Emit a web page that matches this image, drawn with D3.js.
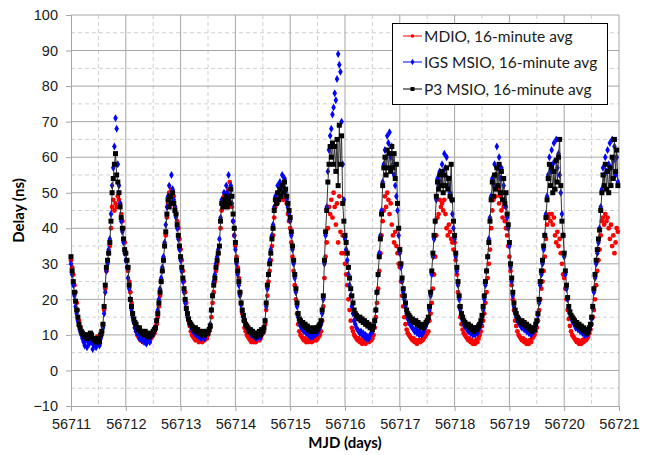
<!DOCTYPE html>
<html lang="en">
<head>
<meta charset="utf-8">
<title>Delay vs MJD</title>
<style>
  body { margin: 0; background: #fff; }
  svg { display: block; font-family: Lato, "Open Sans", sans-serif; }
  .grid-major line { stroke: #a6a6a6; stroke-width: 1; }
  .grid-minor line { stroke: #d0d0d0; stroke-width: 1; stroke-dasharray: 4,3; }
  .axis path, .axis line { stroke: #a6a6a6; }
  .axis text { fill: #1a1a1a; font-size: 14.5px; }
</style>
</head>
<body>
<div id="chart"></div>
<script src="https://cdn.jsdelivr.net/npm/d3@7"></script>
<script>
// 30-minute samples starting at MJD 56711.0, one line per day
var mjdStart = 56711;
var samplesPerDay = 48;

var mdio = [
  31,29,27,24,22,19,17,14,12,11, 10,9.5,9,10,9,8.5,9.5,9,10,8.5, 9,8,9,9.5,8.5,9,10,11,13,17, 23,28,31,33,35,40,46,48,45,47, 46,49,48,47,44,42,40,36,
  33,31,28,25,22,19,16,14,12,11, 10,9.5,9,8.5,9,8,8.5,9,8,8.5, 9,8,9,9.5,10,10.5,11.5,13,15,18, 21,25,28,31,35,38,43,47,50,48, 51,48,49,46,44,42,40,37,
  34,31,28,25,22,19,16,14,12.5,11, 10,9.5,9,8.5,9,8.5,8,9,8.5,8, 9,8.5,9.5,9,10,11,12,15,19,22, 25,28,30,33,35,40,45,47,49,48, 50,48,51,53,49,46,42,38,
  35,32,29,26,22,19,16,14,12,11, 10,9.5,9,8.5,8,8.5,8,9,8,8.5, 9,8.5,9,10,10.5,11,13,17,21,25, 28,31,35,38,43,46,48,47,50,49, 52,50,48,51,49,47,44,42,
  40,36,32,28,24,20,16,13,11,10, 9.5,9,8.5,9,8,8.5,8,9,8.5,8, 9,8.5,9,8.5,9,9.5,10,11,14,18, 26,32,36,40,46,44,48,43,50,46, 41,47,36,49,39,33,38,33,
  30,27,24,20,17,14,12,11,10,9.5, 9,8.5,9,8,8.5,7.5,8,8.5,7.5,8, 8.5,8,9,8.5,9,10,12,15,19,23, 28,33,38,42,45,49,46,50,48,44, 47,41,38,36,39,35,33,30,
  29,25,21,18,15,13,11.5,10.5,10,9.5, 9,8.5,9,8,8.5,7.5,8,8.5,8,8.5, 8.5,9,9.5,10,10.5,11,14,16,19,23, 27,32,38,43,44,48,46,47,45,48, 44,40,38,41,39,37,36,34,
  36,31,27,22,18,15,13,11.5,10.5,10, 9.5,9,8.5,9,8,8.5,7.5,8,7.5,8.5, 8,9,10,11,12.5,14,16,19,22,26, 30,34,40,45,48,52,49,55,51,47, 49,45,43,46,42,40,38,35,
  32,28,24,20,17,14,12.5,11,10,9.5, 9,8.5,9,8,8.5,7.5,8,7.5,8.5,8, 9,9.5,10,11,12,14,17,20,23,25, 28,32,37,41,43,44,42,44,41,43, 38,36,39,35,37,33,30,27,
  26,23,20,17,14.5,12.5,11,10,9.5,9, 8.5,8,8.5,7.5,8,7.5,8.5,8,9,8.5, 9,9.5,10.5,11.5,13,15,17,20,24,28, 31,34,38,42,43,41,44,42,43,40, 37,41,35,38,33,36,40,39
];

var igsMsio = [
  30,27,24,21,18,16,14,12.5,11,10, 9,8,7,8.5,6.5,8,7.5,9,8,6, 7,8,6.5,7.5,8,7,9,10,12,16, 22,28,30,34,37,44,52,57,63,71, 68,58,52,47,42,39,36,33,
  31,29,26,23,20,17,15,13.5,12,11, 10.5,10,9,10,8.5,9.5,8,9,7.5,8.5, 9,8,9.5,10,10.5,11,12,14,17,20, 23,26,29,32,36,41,46,49,52,48, 55,51,48,46,43,40,37,34,
  31,28,25,22,19,17,15,14,13,12.5, 11.5,11,10.5,11,10,10.5,9.5,10,9,9.5, 10,9,10,10.5,11,11.5,13,17,21,25, 27,30,32,34,37,43,48,47,50,49, 52,50,55,49,52,47,42,38,
  34,30,27,24,21,18.5,16.5,15,14,13, 12,11.5,11,10.5,10,11,9.5,10,9,10, 9.5,10.5,9.5,11,10.5,12,14,18,23,27, 31,34,38,41,46,49,48,52,50,53, 51,55,52,54,50,48,46,44,
  42,38,34,30,26,22,18,15,13.5,12.5, 12,11.5,11,11.5,10.5,11,10,10.5,9.5,10, 9.5,10.5,10,11,10.5,11.5,12,13,16,20, 30,38,46,56,62,66,68,72,74,78, 76,82,89,86,84,70,58,48,
  37,34,31,27,24,21,18,16,14,13, 12,11.5,11,10.5,11,10,10.5,9.5,10,9, 9.5,9,10,10.5,11,12,14,17,22,27, 33,38,45,53,58,62,60,66,64,67, 60,63,58,55,52,49,45,38,
  33,29,25,22,20,18,16,14.5,13.5,13, 12.5,12,11.5,11,11.5,10.5,11,10,10.5,10, 10.5,11,12,12.5,13.5,14.5,17,21,27,32, 37,42,48,54,52,56,53,58,56,61, 57,60,54,52,50,48,44,40,
  37,32,28,24,20,17,15,14,13,12.5, 12,11.5,11,11.5,10.5,11,10,10.5,10,11, 10.5,11.5,12,13,14.5,17,20,24,28,32, 37,43,49,54,52,58,55,63,57,60, 54,57,50,52,48,46,43,40,
  35,29,25,21,18,16,15,14,13.5,13, 12.5,12,12.5,11.5,12,11,11.5,10.5,11,10, 10.5,11,11.5,12.5,13.5,15.5,19,24,27,30, 34,38,44,49,55,60,56,62,58,64, 59,65,57,61,55,50,44,38,
  32,27,23,20,17.5,16,15,14,13.5,13, 12,12.5,11.5,12,11,11.5,10.5,11,10,10.5, 10,10.5,11.5,12.5,14.5,17.5,22,26,30,33, 36,40,46,51,57,55,60,56,62,58, 64,57,65,59,63,55,60,53
];

var p3Msio = [
  32,28,25,22,19.5,17,15,13,12,11, 10.5,10,9.5,10,9,10,9.5,10.5,10,9, 8.5,9,8,8.5,9,8,10,11,13,18, 24,29,31,33,36,42,50,54,58,61, 55,53,50,46,43,40,37,34,
  33,31,29,24,20,18,16,14.5,13.5,13, 12,11.5,12,11,10.5,11,10,11,10.5,9.5, 10,9.5,10.5,10,11,11.5,12,14,16,19, 22,25,28,31,35,39,44,48,46,49, 47,50,47,45,44,41,38,35,
  32,29,26,23,20,17.5,16,14.5,13.5,13, 12.5,12,11.5,12,11,11.5,10.5,11,10.5,10, 11,10,10.5,11,10.5,11.5,12.5,17,21,24, 26,29,31,33,35,42,47,46,48,47, 49,46,48,47,51,49,44,40,
  36,31,28,25,22,19,17,15.5,14,13, 12.5,12,11,11.5,10.5,11,10,10.5,9.5,10.5, 10,11,10,11.5,11,12,14,19,24,27, 30,33,37,40,45,48,47,50,48,51, 49,52,50,53,51,49,47,45,
  43,39,35,31,27,23,19,16,14.5,14, 13,13.5,12.5,13,12,12.5,11.5,12,11,11.5, 11,12,11,12,11.5,12.5,13,14,17,21, 31,39,45,53,58,63,60,64,58,63, 56,65,52,69,58,66,47,42,
  38,36,33,29,26,23,21,19,17,16, 15.5,15,14.5,15,14,14.5,13.5,14,13,13.5, 12.5,13,12,12.5,11.5,12.5,14,17,22,27, 32,37,44,52,57,60,55,62,57,61, 56,63,57,61,54,58,47,40,
  34,30,26,23,21,19,17,16,15.5,15, 14,14.5,14,13.5,14,13,13.5,12.5,13,12, 12.5,12,13,13.5,14,15,18,22,28,33, 38,42,49,53,51,55,52,56,50,55, 52,57,51,54,49,58,48,42,
  38,33,29,25,21,18,16,15,14,13.5, 13,12.5,13,12,12.5,11.5,12,11,12,11.5, 12,12.5,13,14,15.5,18,21,25,28,32, 36,42,48,53,49,55,51,57,52,58, 50,56,48,54,47,50,44,41,
  36,30,26,22,19,17,16,15,14.5,14, 13.5,14,13,13.5,12.5,13,12,12.5,11.5,12, 11,12,11.5,13,14,16,20,25,28,31, 35,38,43,48,54,58,52,57,50,56, 51,59,53,60,65,52,42,38,
  33,28,24,20.5,18,16.5,15.5,15,14.5,14, 13,13.5,12.5,13,12,12.5,11.5,12,11,11.5, 10.5,11,12,13,15,18,23,27,31,34, 37,39.5,45,50,55,52,58,51,56,50, 57,52,60,54,65,56,62,52
];

var xTicks = [56711, 56712, 56713, 56714, 56715, 56716, 56717, 56718, 56719, 56720, 56721];
var yTicks = [-10, 0, 10, 20, 30, 40, 50, 60, 70, 80, 90, 100];
var seriesLabels = ["MDIO, 16-minute avg", "IGS MSIO, 16-minute avg", "P3 MSIO, 16-minute avg"];
var seriesColors = ["#ff0000", "#0000ff", "#000000"];

var width = 652, height = 455;
var margin = {top: 15, right: 33, bottom: 49, left: 71};

var svg = d3.select("#chart")
    .append("svg")
    .attr("width", width)
    .attr("height", height);

var x = d3.scaleLinear().domain([56711, 56721]).range([margin.left, width - margin.right]);
var y = d3.scaleLinear().domain([-10, 100]).range([height - margin.bottom, margin.top]);

// dashed minor grid at half steps
svg.append("g").attr("class", "grid-minor")
  .selectAll("line").data(d3.range(56711.5, 56721, 1))
  .enter().append("line")
    .attr("x1", d => x(d)).attr("x2", d => x(d))
    .attr("y1", y(100)).attr("y2", y(-10));
svg.append("g").attr("class", "grid-minor")
  .selectAll("line").data(d3.range(-5, 100, 10))
  .enter().append("line")
    .attr("x1", x(56711)).attr("x2", x(56721))
    .attr("y1", d => y(d)).attr("y2", d => y(d));

// solid major grid
svg.append("g").attr("class", "grid-major")
  .selectAll("line").data(xTicks.slice(1))
  .enter().append("line")
    .attr("x1", d => x(d)).attr("x2", d => x(d))
    .attr("y1", y(100)).attr("y2", y(-10));
svg.append("g").attr("class", "grid-major")
  .selectAll("line").data(yTicks.slice(1))
  .enter().append("line")
    .attr("x1", x(56711)).attr("x2", x(56721))
    .attr("y1", d => y(d)).attr("y2", d => y(d));

// axes
svg.append("g").attr("class", "axis")
    .attr("transform", "translate(0," + y(-10) + ")")
    .call(d3.axisBottom(x).tickValues(xTicks).tickFormat(d3.format("d")).tickSize(5).tickPadding(5))
    .call(g => g.selectAll("text").attr("dy", "0.9em"));
svg.append("g").attr("class", "axis")
    .attr("transform", "translate(" + x(56711) + ",0)")
    .call(d3.axisLeft(y).tickValues(yTicks).tickSize(5).tickPadding(8));

svg.append("text")
    .attr("x", (margin.left + width - margin.right) / 2)
    .attr("y", 448)
    .attr("text-anchor", "middle")
    .attr("font-size", 15).attr("font-weight", "bold")
    .text("MJD (days)");

svg.append("text")
    .attr("transform", "translate(24," + ((margin.top + height - margin.bottom) / 2) + ") rotate(-90)")
    .attr("text-anchor", "middle")
    .attr("font-size", 15).attr("font-weight", "bold")
    .text("Delay (ns)");

function toPoints(vals) {
  return vals.map((v, i) => ({t: mjdStart + i / samplesPerDay, v: v}));
}

var plot = svg.append("g");

// MDIO: red dots
plot.append("g").selectAll("circle").data(toPoints(mdio))
  .enter().append("circle")
    .attr("cx", d => x(d.t)).attr("cy", d => y(d.v))
    .attr("r", 2.4).attr("fill", seriesColors[0]);

// IGS MSIO: blue diamonds
var diamond = d3.symbol().type(d3.symbolDiamond).size(18);
plot.append("g").selectAll("path").data(toPoints(igsMsio))
  .enter().append("path")
    .attr("d", diamond)
    .attr("transform", d => "translate(" + x(d.t) + "," + y(d.v) + ")")
    .attr("fill", seriesColors[1]);

// P3 MSIO: black line + squares
var p3Pts = toPoints(p3Msio);
plot.append("path")
    .datum(p3Pts)
    .attr("fill", "none")
    .attr("stroke", "#333")
    .attr("stroke-width", 1)
    .attr("d", d3.line().x(d => x(d.t)).y(d => y(d.v)));
plot.append("g").selectAll("rect").data(p3Pts)
  .enter().append("rect")
    .attr("x", d => x(d.t) - 2.5).attr("y", d => y(d.v) - 2.5)
    .attr("width", 5).attr("height", 5)
    .attr("fill", "#000");

// legend
var legend = svg.append("g");
legend.append("rect")
    .attr("x", 392.5).attr("y", 23.5)
    .attr("width", 215).attr("height", 81)
    .attr("fill", "#fff").attr("stroke", "#000");

var rowY = [36, 62, 89];
seriesLabels.forEach(function(label, i) {
  var g = legend.append("g").attr("transform", "translate(0," + rowY[i] + ")");
  g.append("line").attr("x1", 403).attr("x2", 422).attr("y1", 0).attr("y2", 0)
    .attr("stroke", seriesColors[i]).attr("stroke-width", 1);
  if (i === 0) {
    g.append("circle").attr("cx", 412.5).attr("cy", 0).attr("r", 1.8).attr("fill", seriesColors[i]);
  } else if (i === 1) {
    g.append("path").attr("d", d3.symbol().type(d3.symbolDiamond).size(12)).attr("transform", "translate(412.5,0)").attr("fill", seriesColors[i]);
  } else {
    g.append("rect").attr("x", 410.5).attr("y", -2).attr("width", 4).attr("height", 4).attr("fill", "#000");
  }
  g.append("text").attr("x", 424).attr("y", 5.5)
    .attr("font-size", 15.5).attr("fill", "#1a1a1a")
    .text(label);
});
</script>
</body>
</html>
